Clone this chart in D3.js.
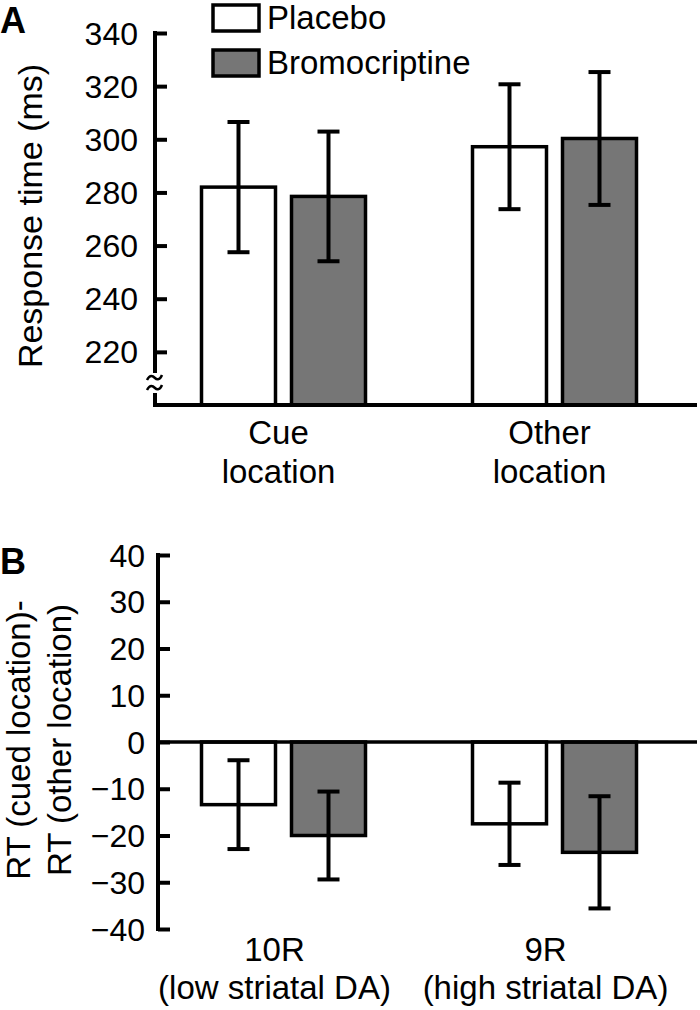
<!DOCTYPE html>
<html>
<head>
<meta charset="utf-8">
<script src="https://cdn.jsdelivr.net/npm/d3@7"></script>
<style>
  html, body { margin: 0; padding: 0; background: #fff; }
  svg { display: block; }
  text { font-family: "Liberation Sans", Arial, Helvetica, sans-serif; fill: #000; }
</style>
</head>
<body>
<svg id="chart" width="700" height="1010"></svg>
<script>
// ---- data ----
const series = ["Placebo", "Bromocriptine"];
const seriesFill = ["#ffffff", "#767676"];

const groupsA = ["Cue location", "Other location"];
const labelsA = [["Cue", "location"], ["Other", "location"]];
const placeboA = [282.0, 297.2];
const bromoA = [278.5, 300.3];
const errPlaceboA = [24.5, 23.5];
const errBromoA = [24.4, 25.0];
const ticksA = [220, 240, 260, 280, 300, 320, 340];

const groupsB = ["10R", "9R"];
const labelsB = [["10R", "(low striatal DA)"], ["9R", "(high striatal DA)"]];
const placeboB = [-13.4, -17.5];
const bromoB = [-20.0, -23.6];
const errPlaceboB = [9.5, 8.8];
const errBromoB = [9.4, 12.0];
const ticksB = [-40, -30, -20, -10, 0, 10, 20, 30, 40];

// ---- drawing ----
const svg = d3.select("#chart");
const FS = 33;

function panel(opts) {
  const g = svg.append("g");
  const x = d3.scaleBand().domain(opts.groups).range([148, 690]).padding(0);
  const xs = d3.scaleBand().domain(series).range([0, 164]).paddingInner(0.1778);
  const y = opts.y;
  const rows = opts.groups.map((grp, i) => series.map((s, j) => ({
    grp, s, j,
    v: j === 0 ? opts.placebo[i] : opts.bromo[i],
    e: j === 0 ? opts.errP[i] : opts.errB[i]
  }))).flat();

  const base = opts.base;
  const bx = d => x(d.grp) + x.bandwidth() / 2 - 82 + xs(d.s);

  // bars
  g.selectAll("rect.bar").data(rows).enter().append("rect")
    .attr("class", "bar")
    .attr("x", bx)
    .attr("width", xs.bandwidth())
    .attr("y", d => Math.min(y(d.v), y(base)))
    .attr("height", d => Math.abs(y(d.v) - y(base)))
    .attr("fill", d => seriesFill[d.j])
    .attr("stroke", "#000")
    .attr("stroke-width", 3.5);

  // error bars
  const eg = g.selectAll("g.err").data(rows).enter().append("g").attr("class", "err");
  const cx = d => bx(d) + xs.bandwidth() / 2;
  eg.append("line")
    .attr("x1", cx).attr("x2", cx)
    .attr("y1", d => y(d.v + d.e)).attr("y2", d => y(d.v - d.e))
    .attr("stroke", "#000").attr("stroke-width", 4);
  eg.append("line")
    .attr("x1", d => cx(d) - 11).attr("x2", d => cx(d) + 11)
    .attr("y1", d => y(d.v + d.e)).attr("y2", d => y(d.v + d.e))
    .attr("stroke", "#000").attr("stroke-width", 4);
  eg.append("line")
    .attr("x1", d => cx(d) - 11).attr("x2", d => cx(d) + 11)
    .attr("y1", d => y(d.v - d.e)).attr("y2", d => y(d.v - d.e))
    .attr("stroke", "#000").attr("stroke-width", 4);

  // y axis
  const ax = g.append("g").attr("transform", `translate(${opts.axisX},0)`);
  const axis = d3.axisRight(y).tickValues(opts.ticks).tickSize(12).tickFormat("");
  ax.call(axis);
  ax.select(".domain").remove();
  ax.selectAll(".tick line").attr("stroke", "#000").attr("stroke-width", 4);
  ax.append("line")
    .attr("x1", 0).attr("x2", 0)
    .attr("y1", y(opts.axisTop) - 2).attr("y2", opts.axisBottom)
    .attr("stroke", "#000").attr("stroke-width", 4);
  // tick labels
  g.selectAll("text.tl").data(opts.ticks).enter().append("text")
    .attr("class", "tl")
    .attr("x", opts.labelX)
    .attr("y", d => y(d))
    .attr("dy", "0.36em")
    .attr("text-anchor", "end")
    .attr("font-size", 32)
    .text(d => d < 0 ? "\u2212" + Math.abs(d) : d);

  // horizontal axis line
  g.append("line")
    .attr("x1", opts.axisX - 2).attr("x2", 697)
    .attr("y1", opts.hLineY).attr("y2", opts.hLineY)
    .attr("stroke", "#000").attr("stroke-width", opts.hLineW);

  // category labels
  opts.groups.forEach((grp, i) => {
    const t = g.append("text")
      .attr("text-anchor", "middle")
      .attr("font-size", FS);
    opts.labels[i].forEach((ln, k) => {
      t.append("tspan")
        .attr("x", x(grp) + x.bandwidth() / 2 + opts.labelDX)
        .attr("y", opts.labelY[k])
        .text(ln);
    });
  });

  // y title
  const tt = g.append("text")
    .attr("transform", `translate(0,${opts.titleCY}) rotate(-90)`)
    .attr("text-anchor", "middle")
    .attr("font-size", opts.titleFS);
  opts.title.forEach((ln, k) => {
    tt.append("tspan").attr("x", 0).attr("y", opts.titleX[k]).text(ln);
  });

  // panel letter
  g.append("text")
    .attr("x", 0).attr("y", opts.letterY)
    .attr("font-size", 36).attr("font-weight", "bold")
    .text(opts.letter);
  return { x, y };
}

// Panel A
const yA = d3.scaleLinear().domain([200, 340]).range([405, 33]);
panel({
  groups: groupsA, labels: labelsA,
  placebo: placeboA, bromo: bromoA, errP: errPlaceboA, errB: errBromoA,
  y: yA, base: 200, ticks: ticksA,
  axisX: 155, axisTop: 340, axisBottom: 405,
  labelX: 138, hLineY: 405, hLineW: 4,
  labelY: [444, 483], labelDX: -5,
  title: ["Response time (ms)"], titleX: [42], titleCY: 216, titleFS: 34,
  letter: "A", letterY: 33
});
// axis break symbol
svg.append("rect").attr("x", 146).attr("y", 373).attr("width", 18).attr("height", 20).attr("fill", "#fff");
[378, 388].forEach(yy => {
  svg.append("path")
    .attr("d", `M147,${yy + 2} C150,${yy - 4} 153,${yy - 2} 155,${yy} S160,${yy + 2} 162,${yy - 3}`)
    .attr("fill", "none").attr("stroke", "#000").attr("stroke-width", 2.5);
});

// Panel B
const yB = d3.scaleLinear().domain([-40, 40]).range([929, 555]);
panel({
  groups: groupsB, labels: labelsB,
  placebo: placeboB, bromo: bromoB, errP: errPlaceboB, errB: errBromoB,
  y: yB, base: 0, ticks: ticksB,
  axisX: 158, axisTop: 40, axisBottom: 931,
  labelX: 145, hLineY: yB(0), hLineW: 3.5,
  labelY: [961, 999], labelDX: -9,
  title: ["RT (cued location)-", "RT (other location)"], titleX: [30, 71], titleCY: 740, titleFS: 33,
  letter: "B", letterY: 574
});

// legend
const leg = svg.append("g");
series.forEach((s, i) => {
  leg.append("rect")
    .attr("x", 213).attr("y", 5 + i * 45)
    .attr("width", 46).attr("height", 26)
    .attr("fill", seriesFill[i]).attr("stroke", "#000").attr("stroke-width", 3.5);
  leg.append("text")
    .attr("x", 267).attr("y", 29 + i * 45)
    .attr("font-size", FS)
    .text(s);
});
</script>
</body>
</html>
